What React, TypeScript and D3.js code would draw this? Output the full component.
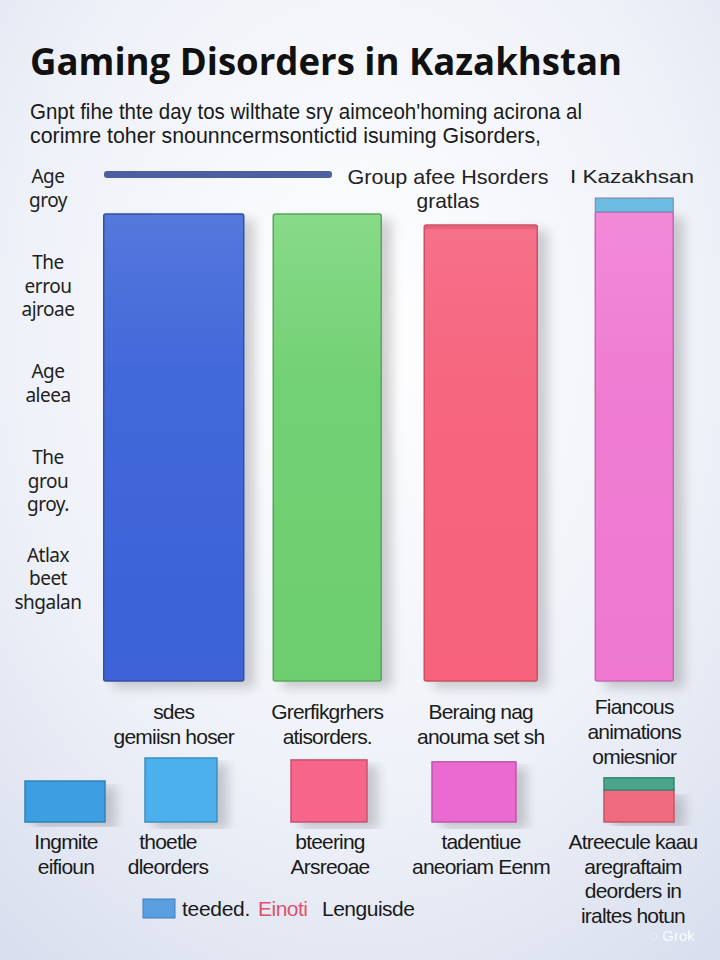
import React from 'react';
import * as d3 from 'd3';

// main bars
const categories = ['sdes', 'Grerfikgrhers', 'Beraing nag', 'Fiancous'];
const mainValues = [96.7, 96.7, 94.4, 97.1];
const capValues = [0, 0, 0, 2.9];
const categoryLabels = [
  ['sdes', 'gemiisn hoser'],
  ['Grerfikgrhers', 'atisorders.'],
  ['Beraing nag', 'anouma set sh'],
  ['Fiancous', 'animations', 'omiesnior'],
];

// left side labels
const sideLabels = [
  ['Age', 'groy'],
  ['The', 'errou', 'ajroae'],
  ['Age', 'aleea'],
  ['The', 'grou', 'groy.'],
  ['Atlax', 'beet', 'shgalan'],
];

// small bars row
const smallCategories = ['Ingmite', 'thoetle', 'bteering', 'tadentiue', 'Atreecule'];
const smallValues = [64, 100, 97, 94, 50];
const smallCaps = [0, 0, 0, 0, 19];
const smallLabels = [
  ['Ingmite', 'eifioun'],
  ['thoetle', 'dleorders'],
  ['bteering', 'Arsreoae'],
  ['tadentiue', 'aneoriam Eenm'],
  ['Atreecule kaau', 'aregraftaim', 'deorders in', 'iraltes hotun'],
];

const subtitle = [
  "Gnpt fihe thte day tos wilthate sry aimceoh'homing acirona al",
  'corimre toher snounncermsontictid isuming Gisorders,',
];

const mainTop = ['#5478dc', '#88da88', '#f7708a', '#f28ad8'];
const mainColors = ['#3c62d8', '#6cce6e', '#f6627a', '#ee78d0'];
const mainEdge = ['#34509e', '#5aa65c', '#c95066', '#c866b0'];
const mainWidths = [140, 108, 113, 78];
const smallColors = ['#3d9fe2', '#4cb0ec', '#f7668a', '#ea6ad2', '#f06a80'];
const smallWidths = [80, 72, 76, 84, 70];

const W = 720;
const H = 960;

const App: React.FC = () => {
  const x = d3.scaleBand<string>().domain(categories).range([97, 711]).padding(0);
  const y = d3.scaleLinear().domain([0, 100]).range([681, 198]);

  const side = d3.scalePoint<number>().domain(d3.range(sideLabels.length)).range([188, 578]);

  const xs = d3.scaleOrdinal<string, number>().domain(smallCategories).range([65, 181, 329, 474, 639]);
  const xl = d3.scaleOrdinal<string, number>().domain(smallCategories).range([66, 168, 330, 481, 633]);
  const ys = d3.scaleLinear().domain([0, 100]).range([822, 758]);

  const sans = '"Liberation Sans", Arial, sans-serif';

  return (
    <svg width={W} height={H} style={{ position: 'absolute', left: 0, top: 0 }}>
      <defs>
        <radialGradient id="bg" cx="0.5" cy="0.35" r="0.8">
          <stop offset="0" stopColor="#ffffff" />
          <stop offset="0.6" stopColor="#eef1f8" />
          <stop offset="1" stopColor="#d9dfee" />
        </radialGradient>
        {mainColors.map((c, i) => (
          <linearGradient key={i} id={`mg${i}`} x1="0" x2="0" y1="0" y2="1">
            <stop offset="0" stopColor={mainTop[i]} />
            <stop offset="0.35" stopColor={d3.interpolateRgb(mainTop[i], c)(0.75)} />
            <stop offset="1" stopColor={c} />
          </linearGradient>
        ))}
        <filter id="shadow" x="-20%" y="-5%" width="150%" height="115%">
          <feGaussianBlur in="SourceAlpha" stdDeviation="6" />
          <feOffset dx="10" dy="6" />
          <feComponentTransfer><feFuncA type="linear" slope="0.18" /></feComponentTransfer>
          <feMerge><feMergeNode /><feMergeNode in="SourceGraphic" /></feMerge>
        </filter>
      </defs>
      <rect width={W} height={H} fill="url(#bg)" />

      <text x={30} y={75} fontFamily='"Open Sans", sans-serif' fontWeight={700} fontSize={38}
        textLength={592} lengthAdjust="spacingAndGlyphs" fill="#111">
        Gaming Disorders in Kazakhstan
      </text>
      {subtitle.map((s, i) => (
        <text key={i} x={30} y={119 + i * 24} fontFamily={sans} fontSize={22}
          textLength={i === 0 ? 552 : 511} lengthAdjust="spacingAndGlyphs" fill="#1a1a1a">
          {s}
        </text>
      ))}

      {/* header strip */}
      <rect x={104} y={171} width={228} height={7} rx={3} fill="#4c5f9e" />
      <text x={448} y={184} textAnchor="middle" fontFamily={sans} fontSize={21} fill="#222"
        textLength={201} lengthAdjust="spacingAndGlyphs">Group afee Hsorders</text>
      <text x={448} y={208} textAnchor="middle" fontFamily={sans} fontSize={21} fill="#222">gratlas</text>
      <text x={632} y={183} textAnchor="middle" fontFamily={sans} fontSize={19} fill="#222"
        textLength={124} lengthAdjust="spacingAndGlyphs">I Kazakhsan</text>

      {/* left labels */}
      {sideLabels.map((lines, i) => {
        const cy = side(i)!;
        const top = cy - ((lines.length - 1) * 23.5) / 2;
        return lines.map((t, j) => (
          <text key={`${i}-${j}`} x={48} y={top + j * 23.5 + 7} textAnchor="middle"
            fontFamily='"Noto Sans", sans-serif' fontSize={19} fill="#222" letterSpacing={-0.5}>{t}</text>
        ));
      })}

      {/* main bars */}
      {categories.map((c, i) => {
        const cx = x(c)! + x.bandwidth() / 2;
        const w = mainWidths[i];
        const top = y(mainValues[i]);
        return (
          <g key={c}>
            <rect x={cx - w / 2} y={top} width={w} height={y(0) - top} rx={2}
              fill={`url(#mg${i})`} stroke={mainEdge[i]} strokeWidth={1.5} filter="url(#shadow)" />
            {i === 2 && (
              <rect x={cx - w / 2} y={top} width={w} height={4} fill="#d85a6e" opacity={0.6} />
            )}
            {capValues[i] > 0 && (
              <rect x={cx - w / 2} y={y(mainValues[i] + capValues[i])} width={w}
                height={y(mainValues[i]) - y(mainValues[i] + capValues[i])}
                fill="#6cbde2" stroke="#8a7aa8" strokeWidth={1} />
            )}
          </g>
        );
      })}

      {/* category labels */}
      {categoryLabels.map((lines, i) => {
        const cx = x(categories[i])! + x.bandwidth() / 2;
        const top = lines.length === 3 ? 714 : 719;
        return lines.map((t, j) => (
          <text key={`${i}-${j}`} x={cx} y={top + j * 25} textAnchor="middle"
            fontFamily={sans} fontSize={21} fill="#1a1a1a" letterSpacing={-0.8}>{t}</text>
        ));
      })}

      {/* small bars */}
      {smallCategories.map((c, i) => {
        const cx = xs(c);
        const w = smallWidths[i];
        const top = ys(smallValues[i]);
        return (
          <g key={c}>
            <rect x={cx - w / 2} y={top} width={w} height={ys(0) - top}
              fill={smallColors[i]} stroke={d3.color(smallColors[i])!.darker(0.6).formatHex()} strokeWidth={1.5}
              filter="url(#shadow)" />
            {smallCaps[i] > 0 && (
              <rect x={cx - w / 2} y={ys(smallValues[i] + smallCaps[i])} width={w}
                height={ys(smallValues[i]) - ys(smallValues[i] + smallCaps[i])}
                fill="#4aa58a" stroke="#3a8670" strokeWidth={1.5} />
            )}
          </g>
        );
      })}

      {/* small labels */}
      {smallLabels.map((lines, i) => (
        lines.map((t, j) => (
          <text key={`${i}-${j}`} x={xl(smallCategories[i])} y={849 + j * 24.5} textAnchor="middle"
            fontFamily={sans} fontSize={21} fill="#1a1a1a" letterSpacing={-0.8}>{t}</text>
        ))
      ))}

      {/* legend */}
      <rect x={143} y={899} width={32} height={19} fill="#5a9ee0" stroke="#3f7fc0" />
      <text x={182} y={916} fontFamily={sans} fontSize={21} fill="#1a1a1a" letterSpacing={-0.3}>teeded.</text>
      <text x={258} y={916} fontFamily={sans} fontSize={21} fill="#e0506a" letterSpacing={-0.5}>Einoti</text>
      <text x={322} y={916} fontFamily={sans} fontSize={21} fill="#1a1a1a" letterSpacing={-0.5}>Lenguisde</text>

      <text x={672} y={941} textAnchor="middle" fontFamily={sans} fontSize={15} fill="#ffffff" opacity={0.85}>◌ Grok</text>
    </svg>
  );
};

export default App;
